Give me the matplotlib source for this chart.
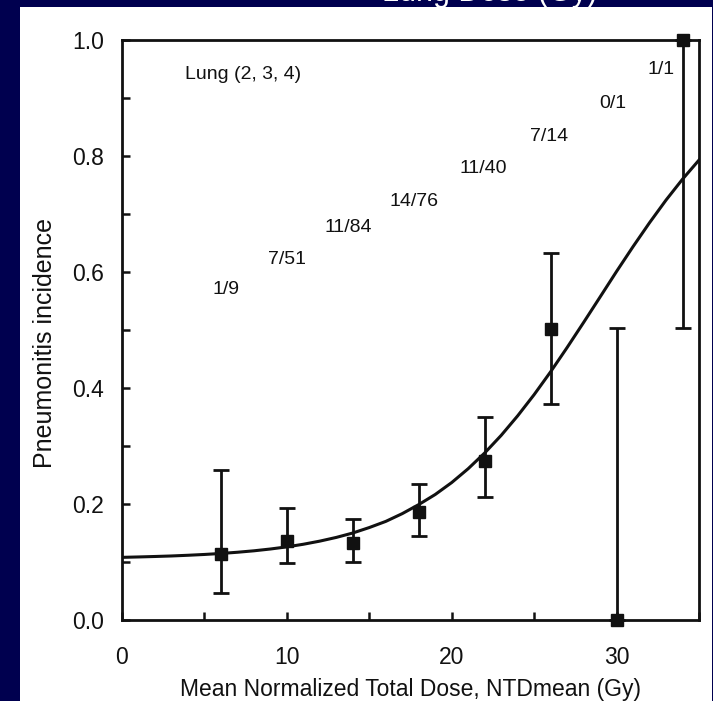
import matplotlib.pyplot as plt
from matplotlib.patches import Rectangle
from matplotlib.ticker import MultipleLocator

plt.rcParams['font.family'] = ['Liberation Sans', 'DejaVu Sans']

# observed incidence per dose bin
dose = [6, 10, 14, 18, 22, 26, 30, 34]
incidence = [0.114, 0.136, 0.133, 0.186, 0.274, 0.502, 0.0, 1.0]
err_low = [0.047, 0.098, 0.100, 0.145, 0.212, 0.372, 0.0, 0.503]
err_high = [0.259, 0.193, 0.174, 0.234, 0.350, 0.633, 0.503, 1.0]
counts = ['1/9', '7/51', '11/84', '14/76', '11/40', '7/14', '0/1', '1/1']
count_x = [6.3, 10.0, 13.7, 17.7, 21.9, 25.9, 29.8, 32.7]
count_y = [0.569, 0.622, 0.676, 0.722, 0.779, 0.833, 0.891, 0.950]

# fitted curve
fit_x = list(range(0, 36))
fit_y = [0.108, 0.1087, 0.1095, 0.1104, 0.1116, 0.1130, 0.1147, 0.1168,
         0.1193, 0.1224, 0.1261, 0.1306, 0.136, 0.1424, 0.150, 0.1594,
         0.170, 0.1834, 0.199, 0.2164, 0.237, 0.2609, 0.288, 0.3183,
         0.352, 0.3886, 0.428, 0.4698, 0.513, 0.5569, 0.601, 0.6438,
         0.685, 0.7240, 0.760, 0.793]

NAVY = '#00004f'
INK = '#111111'

fig = plt.figure(figsize=(7.13, 7.01), dpi=100, facecolor=NAVY)
fig.patches.append(Rectangle((20 / 713, 0), 692 / 713, 1 - 7 / 701,
                             transform=fig.transFigure, facecolor='white',
                             edgecolor='none', zorder=-5))
# slide title remnant cut at the top edge
fig.text(597 / 713, 1 - 1.5 / 701, 'Lung Dose (Gy)', color='white', fontsize=22,
         ha='right', va='baseline')

ax = fig.add_axes([122 / 713, 1 - 620 / 701, 577 / 713, 580 / 701])
ax.set_facecolor('white')

lower = [v - lo for v, lo in zip(incidence, err_low)]
upper = [hi - v for v, hi in zip(incidence, err_high)]
ax.errorbar(dose, incidence, yerr=[lower, upper], fmt='s', color=INK,
            markersize=9, elinewidth=2, capsize=6, capthick=2, clip_on=False,
            zorder=3)
ax.plot(fit_x, fit_y, color=INK, lw=2.2, zorder=2)

for txt, x, y in zip(counts, count_x, count_y):
    ax.text(x, y, txt, ha='center', va='center', fontsize=14, color=INK)
ax.text(3.8, 0.94, 'Lung (2, 3, 4)', ha='left', va='center', fontsize=14, color=INK)

ax.set_xlim(0, 35)
ax.set_ylim(0, 1.0)
ax.xaxis.set_major_locator(MultipleLocator(10))
ax.xaxis.set_minor_locator(MultipleLocator(5))
ax.yaxis.set_major_locator(MultipleLocator(0.2))
ax.yaxis.set_minor_locator(MultipleLocator(0.1))
ax.yaxis.set_major_formatter(plt.FuncFormatter(lambda v, p: f'{v:.1f}'))
ax.tick_params(which='both', direction='in', length=6, width=1.8, colors=INK,
               top=False, right=False)
ax.tick_params(axis='x', pad=19, labelsize=16.5)
ax.tick_params(axis='y', pad=13, labelsize=16.5)
for sp in ax.spines.values():
    sp.set_linewidth(2)
    sp.set_color(INK)

ax.set_xlabel('Mean Normalized Total Dose, NTDmean (Gy)', fontsize=16.5,
              color=INK, labelpad=6)
ax.set_ylabel('Pneumonitis incidence', fontsize=18, color=INK)
ax.yaxis.set_label_coords(-0.112, 0.478)

fig.savefig('out.png', dpi=100, facecolor=NAVY)
